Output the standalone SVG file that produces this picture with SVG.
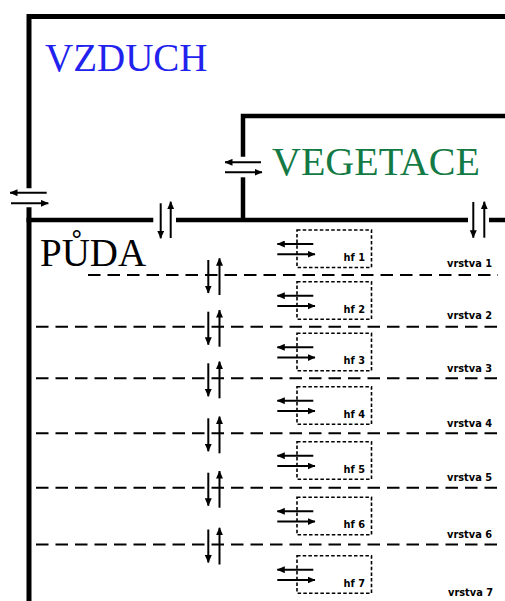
<svg xmlns="http://www.w3.org/2000/svg" width="505" height="601" viewBox="0 0 505 601">
<style>
.frame{fill:none;stroke:#000;stroke-width:5;stroke-linejoin:miter;stroke-linecap:butt}
.veg{fill:none;stroke:#000;stroke-width:4.5;stroke-linecap:butt}
.arr{fill:none;stroke:#000;stroke-width:2;marker-end:url(#ah)}
.layer{fill:none;stroke:#000;stroke-width:2;stroke-dasharray:12.5 7}
.hf{fill:none;stroke:#000;stroke-width:1.6;stroke-dasharray:3.5 2.2}
.big{font-family:"Liberation Serif","Times New Roman",serif;font-size:39px}
.small{font-family:"DejaVu Sans",Verdana,sans-serif;font-size:9.8px;font-weight:bold;fill:#000;text-anchor:end}
</style>
<defs>
<marker id="ah" viewBox="0 0 8 7" refX="7.5" refY="3.5" markerWidth="8" markerHeight="7" orient="auto" markerUnits="userSpaceOnUse">
<path d="M0,0 L8,3.5 L0,7 z" fill="#000"/>
</marker>
</defs>
<rect width="505" height="601" fill="#fff"/>

<g id="vzduch">
<path class="frame" d="M29,188.3 V16.5 H505"/>
<text class="big" x="45" y="71" fill="#2222ee">VZDUCH</text>
</g>

<g id="vegetace">
<path class="veg" d="M243,156.7 V116 H505"/>
<path class="veg" d="M243,177.3 V220"/>
<text class="big" x="272" y="175" fill="#137a45" style="font-size:40px">VEGETACE</text>
</g>

<g id="puda">
<path class="frame" d="M29,207.3 V601"/>
<path class="veg" d="M26.5,220 H153.3 M176,220 H468 M489,220 H505"/>
<text class="big" x="40" y="266" fill="#000">PŮDA</text>
</g>

<g id="vrstvy">
<line class="layer" x1="88" y1="275" x2="498" y2="275"/>
<line class="layer" x1="36" y1="326.7" x2="498" y2="326.7"/>
<line class="layer" x1="36" y1="378.3" x2="498" y2="378.3"/>
<line class="layer" x1="36" y1="433.3" x2="498" y2="433.3"/>
<line class="layer" x1="36" y1="487.7" x2="498" y2="487.7"/>
<line class="layer" x1="36" y1="544.5" x2="498" y2="544.5"/>
<text class="small" x="492" y="266.7">vrstva 1</text>
<text class="small" x="492" y="319.3">vrstva 2</text>
<text class="small" x="492" y="371.7">vrstva 3</text>
<text class="small" x="492" y="426.7">vrstva 4</text>
<text class="small" x="492" y="481">vrstva 5</text>
<text class="small" x="492" y="538.3">vrstva 6</text>
<text class="small" x="493" y="596">vrstva 7</text>
</g>

<g id="hf1"><rect class="hf" x="297" y="230" width="74.5" height="37.5"/><text class="small" x="365" y="261">hf 1</text></g>
<g id="hf2"><rect class="hf" x="297" y="281.7" width="74.5" height="37.5"/><text class="small" x="365" y="312.7">hf 2</text></g>
<g id="hf3"><rect class="hf" x="297" y="333.3" width="74.5" height="37.5"/><text class="small" x="365" y="364.3">hf 3</text></g>
<g id="hf4"><rect class="hf" x="297" y="386.7" width="74.5" height="37.5"/><text class="small" x="365" y="417.7">hf 4</text></g>
<g id="hf5"><rect class="hf" x="297" y="441.7" width="74.5" height="37.5"/><text class="small" x="365" y="472.7">hf 5</text></g>
<g id="hf6"><rect class="hf" x="297" y="497.3" width="74.5" height="37.5"/><text class="small" x="365" y="528.3">hf 6</text></g>
<g id="hf7"><rect class="hf" x="297" y="555.7" width="74.5" height="37.5"/><text class="small" x="365" y="586.7">hf 7</text></g>

<g id="connectors">
<line class="arr" x1="46.7" y1="192.7" x2="10" y2="192.7"/>
<line class="arr" x1="11" y1="203.3" x2="48.3" y2="203.3"/>
<line class="arr" x1="261" y1="162.3" x2="225" y2="162.3"/>
<line class="arr" x1="225" y1="172.3" x2="262" y2="172.3"/>
<line class="arr" x1="160.7" y1="203.3" x2="160.7" y2="238.3"/>
<line class="arr" x1="170.7" y1="238" x2="170.7" y2="201.7"/>
<line class="arr" x1="473.3" y1="202" x2="473.3" y2="237.7"/>
<line class="arr" x1="484.3" y1="237.7" x2="484.3" y2="201.7"/>
<line class="arr" x1="208.3" y1="260" x2="208.3" y2="293"/>
<line class="arr" x1="219.5" y1="295" x2="219.5" y2="258.3"/>
<line class="arr" x1="208.3" y1="311.7" x2="208.3" y2="344.7"/>
<line class="arr" x1="219.5" y1="346.7" x2="219.5" y2="310"/>
<line class="arr" x1="208.3" y1="363.3" x2="208.3" y2="396.3"/>
<line class="arr" x1="219.5" y1="398.3" x2="219.5" y2="361.6"/>
<line class="arr" x1="208.3" y1="418.3" x2="208.3" y2="451.3"/>
<line class="arr" x1="219.5" y1="453.3" x2="219.5" y2="416.6"/>
<line class="arr" x1="208.3" y1="472.7" x2="208.3" y2="505.7"/>
<line class="arr" x1="219.5" y1="507.7" x2="219.5" y2="471"/>
<line class="arr" x1="208.3" y1="529.5" x2="208.3" y2="562.5"/>
<line class="arr" x1="219.5" y1="564.5" x2="219.5" y2="527.8"/>
<line class="arr" x1="313.3" y1="244" x2="277.3" y2="244"/>
<line class="arr" x1="277.3" y1="254.3" x2="315" y2="254.3"/>
<line class="arr" x1="313.3" y1="295.7" x2="277.3" y2="295.7"/>
<line class="arr" x1="277.3" y1="306" x2="315" y2="306"/>
<line class="arr" x1="313.3" y1="347.3" x2="277.3" y2="347.3"/>
<line class="arr" x1="277.3" y1="357.6" x2="315" y2="357.6"/>
<line class="arr" x1="313.3" y1="400.7" x2="277.3" y2="400.7"/>
<line class="arr" x1="277.3" y1="411" x2="315" y2="411"/>
<line class="arr" x1="313.3" y1="455.7" x2="277.3" y2="455.7"/>
<line class="arr" x1="277.3" y1="466" x2="315" y2="466"/>
<line class="arr" x1="313.3" y1="511.3" x2="277.3" y2="511.3"/>
<line class="arr" x1="277.3" y1="521.6" x2="315" y2="521.6"/>
<line class="arr" x1="313.3" y1="569.7" x2="277.3" y2="569.7"/>
<line class="arr" x1="277.3" y1="580" x2="315" y2="580"/>
</g>
</svg>
